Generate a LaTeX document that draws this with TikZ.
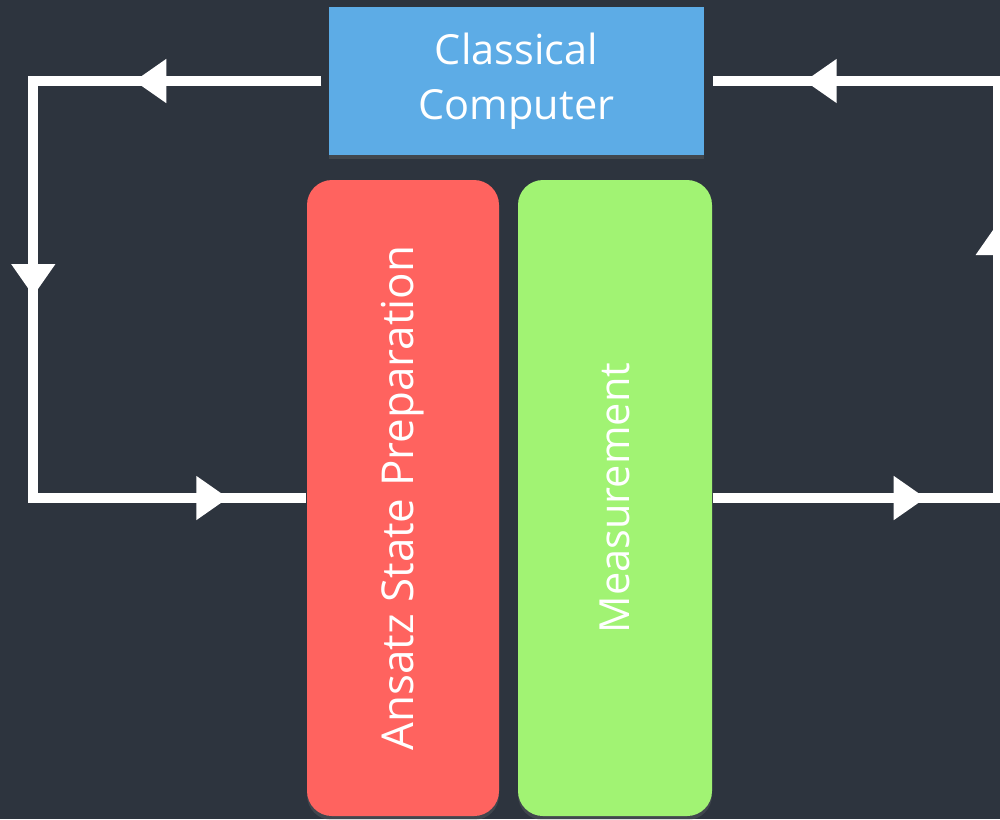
\documentclass[tikz,border=0pt]{standalone}
\usepackage{fontspec}
\setmainfont{Open Sans}
\usetikzlibrary{arrows.meta,decorations.markings,shadows}
\definecolor{board}{HTML}{2D343E}
\definecolor{boxblue}{HTML}{5DACE6}
\definecolor{boxred}{HTML}{FF635F}
\definecolor{boxgreen}{HTML}{A1F373}
\tikzset{
	block/.style={draw=none, text=white, inner sep=0pt, align=center,
		drop shadow={opacity=0.25, shadow xshift=0pt, shadow yshift=-0.4mm}},
	wire/.style={white, line width=1mm},
	tipat/.style={postaction={decorate, decoration={markings,
		mark=at position #1 with {\arrow{Triangle[length=3.2mm, width=4.2mm]}}}}}
}

\begin{document}
\begin{tikzpicture}
			%%%%% START %%%%%
			
			\fill[board] (0, 0) rectangle (10, -8.19);
			\useasboundingbox (0, 0) rectangle (10, -8.19);
			
			\node[block, fill=boxblue, minimum width=3.75cm, minimum height=1.48cm,
				font=\fontsize{11.8pt}{15.6pt}\selectfont] (cc) at (5.165, -0.81) {Classical\\Computer};
			
			\node[block, fill=boxred, rounded corners=0.25cm, minimum width=1.92cm, minimum height=6.36cm,
				font=\fontsize{12.5pt}{14pt}\selectfont] (ansatz) at (4.03, -4.98) {\rotatebox{90}{Ansatz State Preparation}};
			\node[block, fill=boxgreen, rounded corners=0.25cm, minimum width=1.94cm, minimum height=6.36cm,
				font=\fontsize{11.8pt}{14pt}\selectfont] (meas) at (6.15, -4.98) {\rotatebox{90}{Measurement}};
			
			\draw[wire, tipat=1.87cm, tipat=5.03cm, tipat=9.0cm]
				([xshift=-0.07cm]cc.west) -- ++(-2.88, 0) |- (ansatz.west);
			\draw[wire, tipat=2.13cm, tipat=5.6cm, tipat=8.95cm]
				(meas.east) -- ++(2.85, 0) |- ([xshift=0.08cm]cc.east);
			
			%%%%% END %%%%%
\end{tikzpicture}
\end{document}
